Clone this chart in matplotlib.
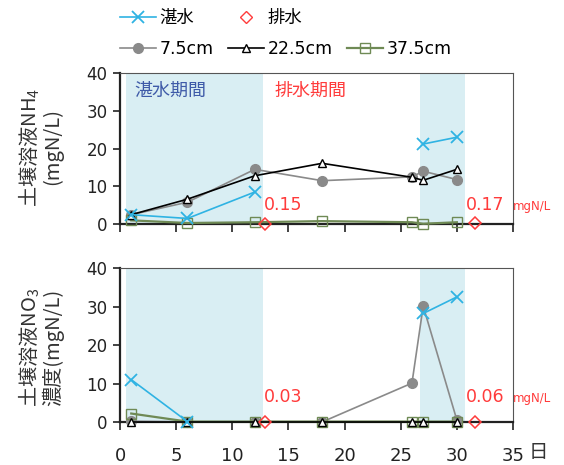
import numpy as np
import matplotlib
matplotlib.use("Agg")
import matplotlib.pyplot as plt
from matplotlib.lines import Line2D

plt.rcParams['font.family'] = ['DejaVu Sans', 'Noto Sans CJK JP']
plt.rcParams['mathtext.fontset'] = 'custom'
plt.rcParams['mathtext.rm'] = 'Noto Sans CJK JP'
plt.rcParams['mathtext.default'] = 'regular'

# 採水日
days = [1, 6, 12, 18, 26, 27, 30]

# NH4 (mgN/L)  -- 湛水は欠測を nan で区切る
nh4_tansui_x = [1, 6, 12, 20, 27, 30]
nh4_tansui = [2.5, 1.5, 8.5, np.nan, 21.2, 23.0]
nh4_75 = [2.5, 5.8, 14.5, 11.5, 12.5, 14.0, 11.8]
nh4_225 = [2.5, 6.6, 12.8, 16.1, 12.4, 11.6, 14.5]
nh4_375 = [1.0, 0.3, 0.5, 0.8, 0.5, 0.1, 0.5]
nh4_haisui = [0.15, 0.17]

# NO3 (mgN/L)
no3_tansui_x = [1, 6, 20, 27, 30]
no3_tansui = [11.0, 0.1, np.nan, 28.2, 32.5]
no3_75 = [0.2, 0.0, 0.0, 0.0, 10.1, 30.1, 0.5]
no3_225 = [0.1, 0.1, 0.1, 0.1, 0.1, 0.1, 0.1]
no3_375 = [2.2, 0.1, 0.1, 0.1, 0.1, 0.1, 0.1]
no3_haisui = [0.03, 0.06]

haisui_x = [12.9, 31.6]

# 湛水期間
periods = [(0.5, 12.7), (26.7, 30.7)]

c_cyan = '#2fb3e3'
c_grey = '#8a8a8a'
c_olive = '#6f8a55'
c_red = '#ff3b3b'
c_blue = '#3e5aa8'
c_shade = '#d9eef3'

fig = plt.figure(figsize=(5.64, 4.65), dpi=100)
ax1 = fig.add_axes([0.2128, 0.518, 0.6968, 0.325])
ax2 = fig.add_axes([0.2128, 0.0925, 0.6968, 0.331])


def draw(ax, tx, ty, y75, y225, y375, hy):
    for a, b in periods:
        ax.axvspan(a, b, color=c_shade, lw=0, zorder=0)
    ax.plot(days, y75, color=c_grey, lw=1.2, marker='o', ms=7,
            mfc=c_grey, mec=c_grey, clip_on=False, zorder=3)
    ax.plot(days, y225, color='black', lw=1.2, marker='^', ms=6,
            mfc='white', mec='black', clip_on=False, zorder=4)
    ax.plot(days, y375, color=c_olive, lw=1.6, marker='s', ms=7,
            mfc='none', mec=c_olive, clip_on=False, zorder=3)
    ax.plot(tx, ty, color=c_cyan, lw=1.2, marker='x', ms=8, mew=1.3,
            clip_on=False, zorder=5)
    ax.plot(haisui_x, hy, ls='none', marker='D', ms=6, mfc='none',
            mec=c_red, mew=1.1, clip_on=False, zorder=5)
    ax.set_xlim(0, 35)
    ax.set_ylim(0, 40)
    ax.set_xticks(np.arange(0, 36, 5))
    ax.set_yticks(np.arange(0, 41, 10))
    for s in ['top', 'right']:
        ax.spines[s].set_color('#555555')
        ax.spines[s].set_linewidth(0.8)
    for s in ['left', 'bottom']:
        ax.spines[s].set_color('#222222')
        ax.spines[s].set_linewidth(1.6)
    ax.tick_params(axis='y', labelsize=12, length=5, width=1.2,
                   colors='#222222', pad=4)
    ax.tick_params(axis='x', labelsize=13, length=6, width=1.2,
                   colors='#222222', pad=12)


draw(ax1, nh4_tansui_x, nh4_tansui, nh4_75, nh4_225, nh4_375, nh4_haisui)
draw(ax2, no3_tansui_x, no3_tansui, no3_75, no3_225, no3_375, no3_haisui)
ax1.set_xticklabels([])

ax1.text(1.3, 35.2, '湛水期間', color=c_blue, fontsize=13, va='center')
ax1.text(13.8, 35.2, '排水期間', color=c_red, fontsize=13, va='center')

ax1.text(12.8, 5.0, f'{nh4_haisui[0]:.2f}', color=c_red, fontsize=12.5, va='center')
ax1.text(30.8, 5.0, f'{nh4_haisui[1]:.2f}', color=c_red, fontsize=12.5, va='center')
ax1.text(35.0, 4.6, 'mgN/L', color=c_red, fontsize=8.5, va='center', clip_on=False)
ax2.text(12.8, 6.5, f'{no3_haisui[0]:.2f}', color=c_red, fontsize=12.5, va='center')
ax2.text(30.8, 6.5, f'{no3_haisui[1]:.2f}', color=c_red, fontsize=12.5, va='center')
ax2.text(35.0, 6.0, 'mgN/L', color=c_red, fontsize=8.5, va='center', clip_on=False)

fig.text(0.071, 0.684, '土壌溶液NH$_4$\n(mgN/L)', rotation=90, ha='center',
         va='center', fontsize=14.5, color='#333333', linespacing=1.0,
         family='Noto Sans CJK JP')
fig.text(0.071, 0.252, '土壌溶液NO$_3$\n濃度(mgN/L)', rotation=90, ha='center',
         va='center', fontsize=14.5, color='#333333', linespacing=1.0,
         family='Noto Sans CJK JP')
fig.text(0.954, 0.027, '日', fontsize=14, color='#333333', ha='center',
         va='center', family='Noto Sans CJK JP')

handles = [
    Line2D([], [], color=c_cyan, lw=1.2, marker='x', ms=8, mew=1.3),
    Line2D([], [], color=c_grey, lw=1.2, marker='o', ms=7, mfc=c_grey),
    Line2D([], [], ls='none', marker='D', ms=6, mfc='none', mec=c_red),
    Line2D([], [], color='black', lw=1.2, marker='^', ms=6, mfc='white'),
    Line2D([], [], ls='none', marker=None),
    Line2D([], [], color=c_olive, lw=1.6, marker='s', ms=7, mfc='none'),
]
labels = ['湛水', '7.5cm', '排水', '22.5cm', '', '37.5cm']
fig.legend(handles, labels, ncol=3, loc='upper left',
           bbox_to_anchor=(0.2, 0.995), frameon=False, fontsize=12.5,
           handlelength=2.1, handletextpad=0.2, columnspacing=0.8,
           labelspacing=0.75, borderaxespad=0)

fig.savefig('out.png', dpi=100)
